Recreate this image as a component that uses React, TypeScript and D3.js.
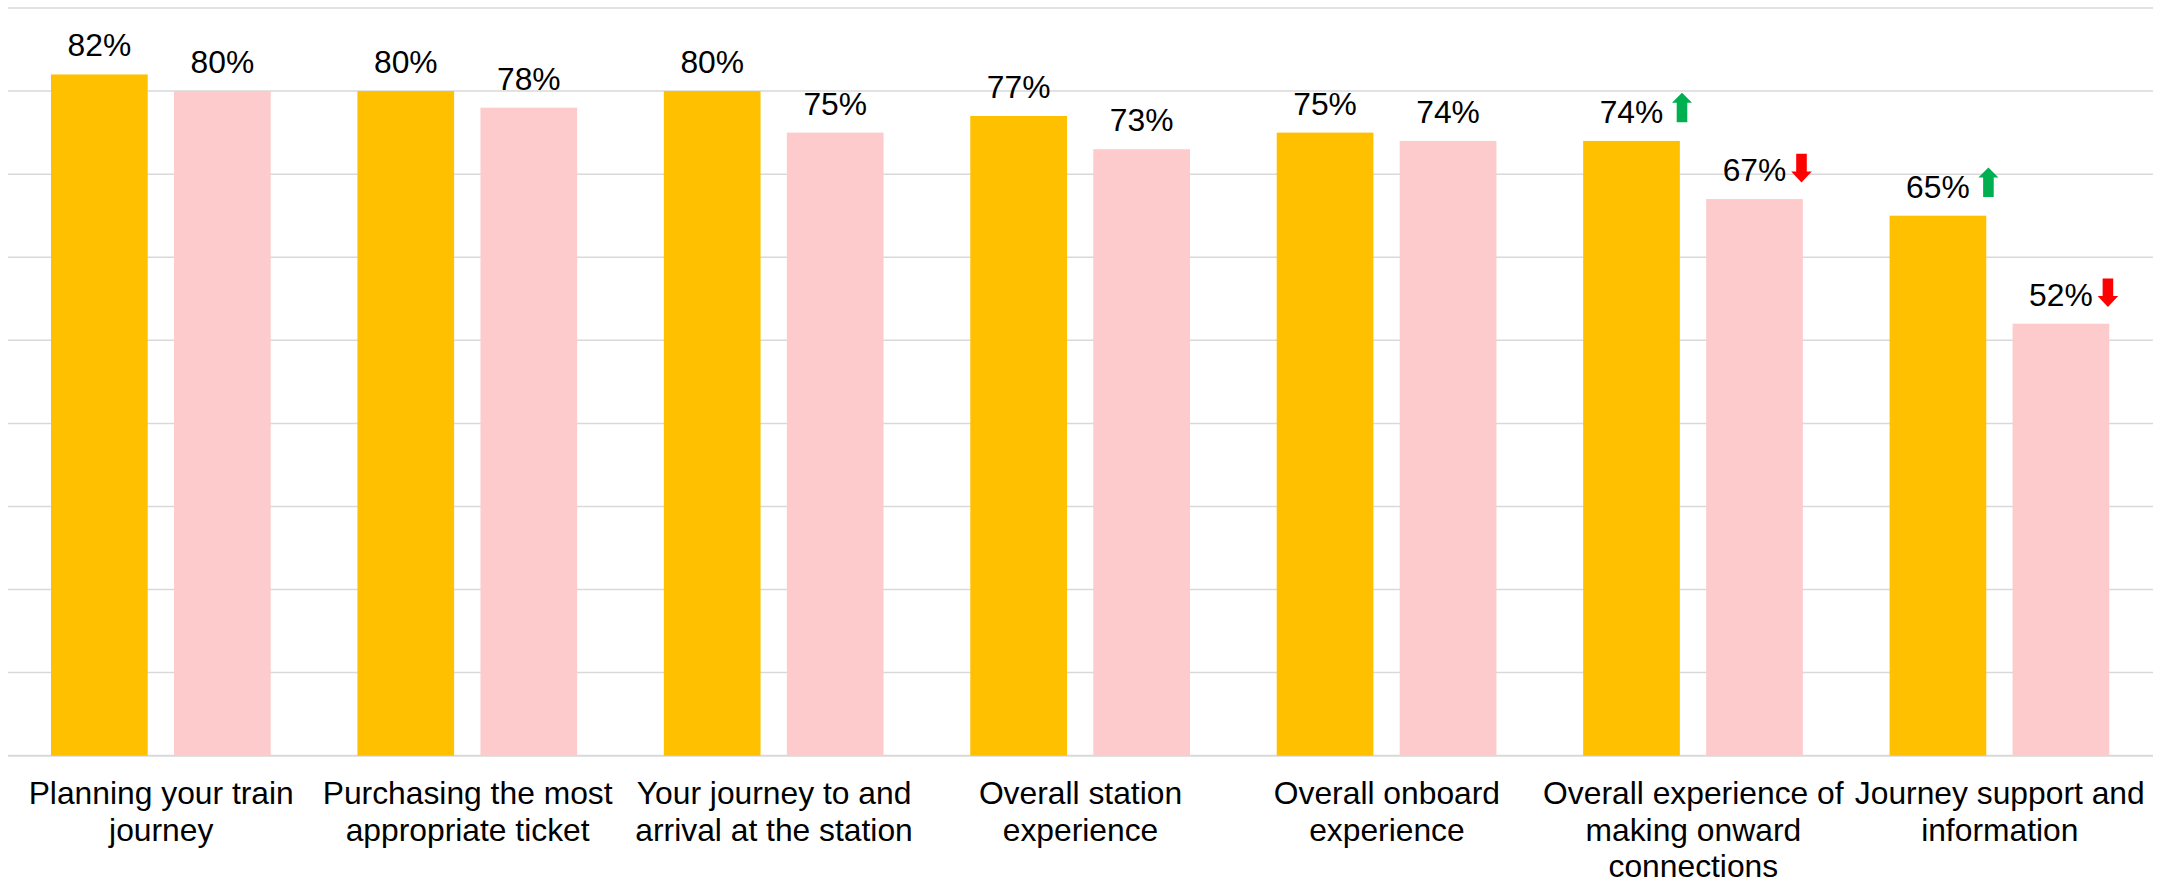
import React from "react";
import * as d3 from "d3";

// Satisfaction by journey stage, two survey groups
const categories: string[][] = [
  ["Planning your train", "journey"],
  ["Purchasing the most", "appropriate ticket"],
  ["Your journey to and", "arrival at the station"],
  ["Overall station", "experience"],
  ["Overall onboard", "experience"],
  ["Overall experience of", "making onward", "connections"],
  ["Journey support and", "information"],
];
const seriesKeys = ["primary", "secondary"];
const primaryValues = [82, 80, 80, 77, 75, 74, 65];
const secondaryValues = [80, 78, 75, 73, 74, 67, 52];
// +1 = significant rise, -1 = significant fall, 0 = no change
const primaryTrend = [0, 0, 0, 0, 0, 1, 1];
const secondaryTrend = [0, 0, 0, 0, 0, -1, -1];
const yTicks = [0, 10, 20, 30, 40, 50, 60, 70, 80, 90];

const W = 2161;
const H = 881;
const COLORS: Record<string, string> = { primary: "#FFC000", secondary: "#FDCBCB" };
const FONT = "'Liberation Sans', Arial, Helvetica, sans-serif";

const upArrow = "M -5.3,0 L 5.3,0 L 5.3,-19.5 L 10,-19.5 L 0,-29.5 L -10,-19.5 L -5.3,-19.5 Z";
const downArrow = "M -5.3,0 L 5.3,0 L 5.3,17.7 L 10.3,17.7 L 0,28.7 L -10.3,17.7 L -5.3,17.7 Z";

export default function App() {
  const keys = categories.map((c) => c.join(" "));
  const x = d3.scaleBand<string>().domain(keys).range([8, 2153]).padding(0);
  const inner = d3
    .scaleBand<string>()
    .domain(seriesKeys)
    .range([43, 262.7])
    .paddingInner(0.2138)
    .paddingOuter(0);
  const y = d3.scaleLinear().domain([0, 90]).range([755.7, 8]);

  const rows = keys.map((k, i) => ({
    key: k,
    lines: categories[i],
    bars: [
      { s: "primary", v: primaryValues[i], t: primaryTrend[i] },
      { s: "secondary", v: secondaryValues[i], t: secondaryTrend[i] },
    ],
  }));

  return (
    <svg
      width={W}
      height={H}
      viewBox={`0 0 ${W} ${H}`}
      style={{ position: "absolute", left: 0, top: 0, display: "block", background: "#fff" }}
    >
      <g>
        {yTicks.map((t) => (
          <line
            key={t}
            x1={8}
            x2={2153}
            y1={y(t)}
            y2={y(t)}
            stroke="#D9D9D9"
            strokeWidth={t === 0 ? 2 : 1.5}
          />
        ))}
      </g>
      {rows.map((r) => {
        const x0 = x(r.key) as number;
        const cx = x0 + x.bandwidth() / 2;
        return (
          <g key={r.key}>
            {r.bars.map((b) => {
              const bx = x0 + (inner(b.s) as number);
              const bw = inner.bandwidth();
              const by = y(b.v);
              const mid = bx + bw / 2;
              const base = by - 18;
              return (
                <g key={b.s}>
                  <rect x={bx} y={by} width={bw} height={y(0) - by} fill={COLORS[b.s]} />
                  <text
                    x={mid}
                    y={base}
                    textAnchor="middle"
                    fontFamily={FONT}
                    fontSize={31.8}
                    fill="#000"
                  >
                    {`${b.v}%`}
                  </text>
                  {b.t > 0 && (
                    <path d={upArrow} transform={`translate(${mid + 50.5},${base - 0.7})`} fill="#00B050" />
                  )}
                  {b.t < 0 && (
                    <path d={downArrow} transform={`translate(${mid + 47},${base - 27.3})`} fill="#FF0000" />
                  )}
                </g>
              );
            })}
            <text textAnchor="middle" fontFamily={FONT} fontSize={31.8} fill="#000">
              {r.lines.map((ln, j) => (
                <tspan key={j} x={cx} y={804 + j * 36.5}>
                  {ln}
                </tspan>
              ))}
            </text>
          </g>
        );
      })}
    </svg>
  );
}
